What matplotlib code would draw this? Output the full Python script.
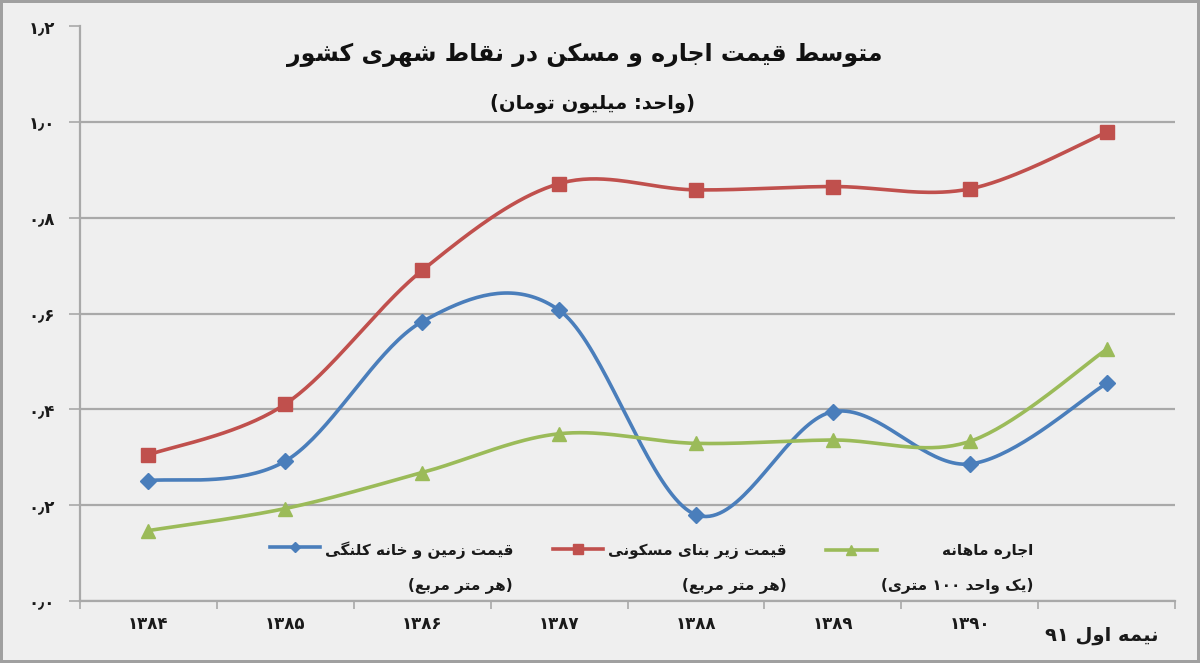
import numpy as np
import matplotlib
matplotlib.use("Agg")
import matplotlib.pyplot as plt
from matplotlib.lines import Line2D
from matplotlib.ticker import FixedLocator, FuncFormatter
from matplotlib.transforms import ScaledTranslation

# ---------------- data ----------------
categories = ["۱۳۸۴", "۱۳۸۵", "۱۳۸۶", "۱۳۸۷", "۱۳۸۸", "۱۳۸۹", "۱۳۹۰", "نیمه اول ۹۱"]
land_price = [0.251, 0.292, 0.583, 0.607, 0.180, 0.395, 0.286, 0.454]      # blue
build_price = [0.305, 0.411, 0.690, 0.871, 0.858, 0.865, 0.860, 0.978]     # red
monthly_rent = [0.147, 0.193, 0.268, 0.349, 0.329, 0.336, 0.333, 0.525]    # green
series_names = ["قیمت زمین و خانه کلنگی\n(هر متر مربع)",
                "قیمت زیر بنای مسکونی\n(هر متر مربع)",
                "اجاره ماهانه\n(یک واحد ۱۰۰ متری)"]
title_text = "متوسط قیمت اجاره و مسکن در نقاط شهری کشور"
subtitle_text = "(واحد: میلیون تومان)"
y_ticks = [0.0, 0.2, 0.4, 0.6, 0.8, 1.0, 1.2]

# ---------------- minimal Persian shaping + RTL ordering ----------------
FORMS = {
    'ا': ('\uFE8D', '\uFE8E', None, None),
    'آ': ('\uFE81', '\uFE82', None, None),
    'ب': ('\uFE8F', '\uFE90', '\uFE91', '\uFE92'),
    'پ': ('\uFB56', '\uFB57', '\uFB58', '\uFB59'),
    'ت': ('\uFE95', '\uFE96', '\uFE97', '\uFE98'),
    'ج': ('\uFE9D', '\uFE9E', '\uFE9F', '\uFEA0'),
    'چ': ('\uFB7A', '\uFB7B', '\uFB7C', '\uFB7D'),
    'ح': ('\uFEA1', '\uFEA2', '\uFEA3', '\uFEA4'),
    'خ': ('\uFEA5', '\uFEA6', '\uFEA7', '\uFEA8'),
    'د': ('\uFEA9', '\uFEAA', None, None),
    'ر': ('\uFEAD', '\uFEAE', None, None),
    'ز': ('\uFEAF', '\uFEB0', None, None),
    'ژ': ('\uFB8A', '\uFB8B', None, None),
    'س': ('\uFEB1', '\uFEB2', '\uFEB3', '\uFEB4'),
    'ش': ('\uFEB5', '\uFEB6', '\uFEB7', '\uFEB8'),
    'ط': ('\uFEC1', '\uFEC2', '\uFEC3', '\uFEC4'),
    'ع': ('\uFEC9', '\uFECA', '\uFECB', '\uFECC'),
    'ق': ('\uFED5', '\uFED6', '\uFED7', '\uFED8'),
    'ک': ('\uFB8E', '\uFB8F', '\uFB90', '\uFB91'),
    'گ': ('\uFB92', '\uFB93', '\uFB94', '\uFB95'),
    'ل': ('\uFEDD', '\uFEDE', '\uFEDF', '\uFEE0'),
    'م': ('\uFEE1', '\uFEE2', '\uFEE3', '\uFEE4'),
    'ن': ('\uFEE5', '\uFEE6', '\uFEE7', '\uFEE8'),
    'ه': ('\uFEE9', '\uFEEA', '\uFEEB', '\uFEEC'),
    'و': ('\uFEED', '\uFEEE', None, None),
    'ی': ('\uFBFC', '\uFBFD', '\uFBFE', '\uFBFF'),
}
DIGITS = set('۰۱۲۳۴۵۶۷۸۹0123456789٫')


def _shape(text):
    out = []
    for i, c in enumerate(text):
        if c not in FORMS:
            out.append(c)
            continue
        prev = text[i - 1] if i > 0 else None
        nxt = text[i + 1] if i + 1 < len(text) else None
        jp = prev in FORMS and FORMS[prev][2] is not None
        jn = FORMS[c][2] is not None and nxt in FORMS
        f = FORMS[c]
        if jp and jn:
            out.append(f[3])
        elif jp:
            out.append(f[1])
        elif jn:
            out.append(f[2])
        else:
            out.append(f[0])
    return out


def rtl(text):
    lines = []
    for line in text.split('\n'):
        s = _shape(line)[::-1]
        res, i = [], 0
        while i < len(s):
            if s[i] in DIGITS:
                j = i
                while j < len(s) and s[j] in DIGITS:
                    j += 1
                res.extend(s[i:j][::-1])
                i = j
            else:
                res.append({'(': ')', ')': '('}.get(s[i], s[i]))
                i += 1
        lines.append(''.join(res))
    return '\n'.join(lines)


def fa_num(v):
    s = f"{v:.1f}".replace('.', '٫')
    return s.translate(str.maketrans('0123456789', '۰۱۲۳۴۵۶۷۸۹'))


def smooth(xs, ys, n=40):
    """Catmull-Rom style smoothing through the data points (like Excel smoothed lines)."""
    xs = np.asarray(xs, float)
    ys = np.asarray(ys, float)
    px = np.concatenate([[xs[0]], xs, [xs[-1]]])
    py = np.concatenate([[ys[0]], ys, [ys[-1]]])
    outx, outy = [], []
    for i in range(1, len(px) - 2):
        t = np.linspace(0, 1, n, endpoint=(i == len(px) - 3))
        for P, O in ((px, outx), (py, outy)):
            p0, p1, p2, p3 = P[i - 1], P[i], P[i + 1], P[i + 2]
            m1 = (p2 - p0) / 2
            m2 = (p3 - p1) / 2
            h00 = 2 * t**3 - 3 * t**2 + 1
            h10 = t**3 - 2 * t**2 + t
            h01 = -2 * t**3 + 3 * t**2
            h11 = t**3 - t**2
            O.extend(h00 * p1 + h10 * m1 + h01 * p2 + h11 * m2)
    return np.array(outx), np.array(outy)


# ---------------- figure ----------------
BG = '#efefef'
GRID = '#a9a9a9'
TXT = '#1a1a1a'
plt.rcParams['font.family'] = ['DejaVu Sans']

fig = plt.figure(figsize=(12, 6.63), dpi=100)
fig.patch.set_facecolor(BG)
fig.patch.set_edgecolor('#a0a0a0')
fig.patch.set_linewidth(4)

ax = fig.add_axes([80 / 1200, 1 - 601 / 663, 1095 / 1200, 575 / 663])
ax.set_facecolor(BG)

x = np.arange(len(categories))
colors = ['#4a7ebb', '#c0504d', '#9bbb59']
markers = ['D', 's', '^']
msizes = [8, 10, 10]
handles = []
for vals, col, mk, ms, name in zip([land_price, build_price, monthly_rent], colors, markers, msizes, series_names):
    sx, sy = smooth(x, vals)
    ax.plot(sx, sy, color=col, lw=2.6, solid_capstyle='round', zorder=3)
    ax.plot(x, vals, linestyle='none', marker=mk, ms=ms, color=col, zorder=4)
    handles.append(Line2D([], [], color=col, lw=2.6, marker=mk, ms=ms * 0.7))

ax.set_xlim(-0.5, len(categories) - 0.5)
ax.set_ylim(0, 1.2)

ax.yaxis.set_major_locator(FixedLocator(y_ticks))
ax.yaxis.set_major_formatter(FuncFormatter(lambda v, p: fa_num(v)))
ax.grid(axis='y', color=GRID, lw=1.6, zorder=1)
ax.tick_params(axis='y', length=8, width=1.2, color=GRID, pad=10, labelsize=12, labelcolor=TXT)
for t in ax.get_yticklabels():
    t.set_fontweight('bold')

ax.set_xticks(x)
ax.set_xticklabels([rtl(c) for c in categories], fontsize=12, fontweight='bold', color=TXT)
ax.set_xticks(np.arange(len(categories) + 1) - 0.5, minor=True)
ax.tick_params(axis='x', which='major', length=0, pad=10)
ax.tick_params(axis='x', which='minor', length=6, width=1.2, color=GRID, direction='out')

for s in ['top', 'right']:
    ax.spines[s].set_visible(False)
for s in ['left', 'bottom']:
    ax.spines[s].set_color(GRID)
    ax.spines[s].set_linewidth(1.6)

leg = ax.legend(handles, [rtl(n) for n in series_names], ncol=3, loc='lower center',
                bbox_to_anchor=(0.522, -0.0105), frameon=False,
                handlelength=3.3, columnspacing=2.6, handletextpad=0.3,
                prop={'weight': 'bold', 'size': 11})
for t in leg.get_texts():
    t.set_multialignment('right')
    t.set_linespacing(2.52)
    t.set_color(TXT)
try:
    for col in leg._legend_handle_box.get_children():
        for row in col.get_children():
            row.align = 'top'
except Exception:
    pass

fig.text(585 / 1200, 1 - 55 / 663, rtl(title_text), ha='center', va='center',
         fontsize=17, fontweight='bold', color='#111111')
fig.text(593 / 1200, 1 - 103 / 663, rtl(subtitle_text), ha='center', va='center',
         fontsize=14, fontweight='bold', color='#111111')

fig.canvas.draw()
# no gridline at the top value
ax.yaxis.get_major_ticks()[-1].gridline.set_visible(False)
# last category label: larger, lower, shifted as in the source
last = ax.get_xticklabels()[-1]
last.set_fontsize(14)
last.set_ha('right')
last.set_transform(last.get_transform() + ScaledTranslation(0.52, -0.11, fig.dpi_scale_trans))

fig.savefig('out.png', dpi=100, facecolor=fig.get_facecolor(), edgecolor=fig.get_edgecolor())
